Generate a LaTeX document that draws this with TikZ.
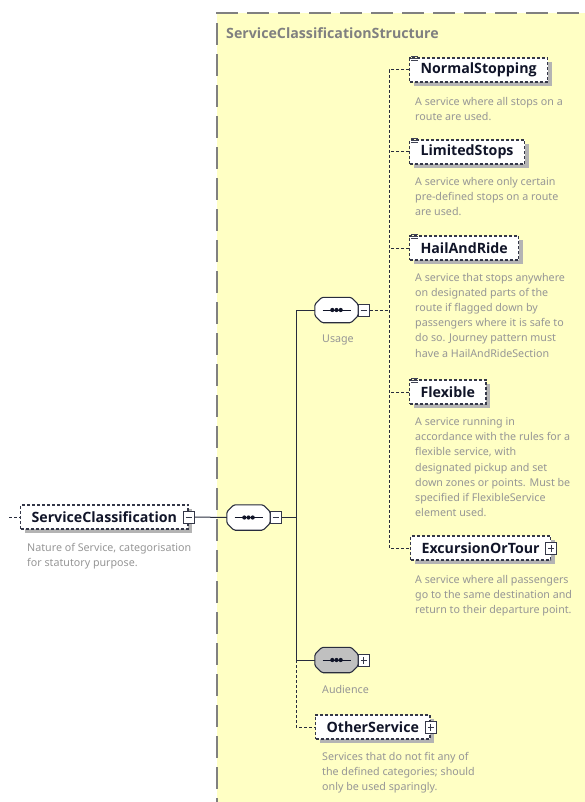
\documentclass[tikz,border=0pt]{standalone}
\usepackage{fontspec}
\setmainfont{Noto Sans}
\newfontfamily\namefam{Open Sans}
\usetikzlibrary{shadows,calc}

\definecolor{panel}{RGB}{255,255,196}
\definecolor{panelline}{RGB}{128,128,128}
\definecolor{ink}{RGB}{16,20,40}
\definecolor{note}{RGB}{150,150,150}
\definecolor{shade}{RGB}{180,180,180}
\definecolor{compgrey}{RGB}{192,192,192}

\newcommand\elfont{\namefam\fontsize{14.2}{17}\selectfont\bfseries}
\newcommand\notefont{\fontsize{10.7}{15.2}\selectfont}
\newcommand\notelines[1]{\begin{tabular}[t]{@{}l@{}}#1\end{tabular}}

\tikzset{
  element/.style={draw=ink!85, dash pattern=on 3pt off 2pt, line width=1.1pt,
    fill=white, font=\elfont, text=ink, anchor=west, inner xsep=11pt,
    inner ysep=0pt, minimum height=24pt,
    drop shadow={shadow xshift=4pt, shadow yshift=-4pt, fill=shade, opacity=1}},
  note/.style={anchor=base west, inner sep=0pt, font=\notefont, text=note},
  compbox/.style={minimum width=43pt, minimum height=25pt, inner sep=0pt},
  togglebox/.style={draw=ink!85, fill=white, line width=0.8pt, solid,
    minimum width=11pt, minimum height=12pt, inner sep=0pt},
  minusbox/.style={togglebox, path picture={
    \draw[ink!85, line width=0.8pt]
      ([xshift=2.5pt]path picture bounding box.west) --
      ([xshift=-2.5pt]path picture bounding box.east);}},
  plusbox/.style={togglebox, path picture={
    \draw[ink!85, line width=0.8pt]
      ([xshift=2.5pt]path picture bounding box.west) --
      ([xshift=-2.5pt]path picture bounding box.east)
      ([yshift=2.5pt]path picture bounding box.south) --
      ([yshift=-2.5pt]path picture bounding box.north);}},
  conn/.style={draw=ink!90, line width=1pt},
  opt/.style={conn, dash pattern=on 3pt off 2pt},
}

% sequence compositor: chamfered box with shadow, dotted bar and a toggle
\newcommand\compositor[4]{% name, centre, fill, toggle style
  \node[compbox] (#1) at (#2) {};
  \path[fill=shade, shift={(5,5)}, rounded corners=1.5pt]
    ($(#1.north west)+(7,0)$) -- ($(#1.north east)+(-7,0)$) --
    ($(#1.north east)+(0,7)$) -- ($(#1.south east)+(0,-7)$) --
    ($(#1.south east)+(-7,0)$) -- ($(#1.south west)+(7,0)$) --
    ($(#1.south west)+(0,-7)$) -- ($(#1.north west)+(0,7)$) -- cycle;
  \path[fill=#3, draw=ink!90, line width=1.1pt, rounded corners=1.5pt]
    ($(#1.north west)+(7,0)$) -- ($(#1.north east)+(-7,0)$) --
    ($(#1.north east)+(0,7)$) -- ($(#1.south east)+(0,-7)$) --
    ($(#1.south east)+(-7,0)$) -- ($(#1.south west)+(7,0)$) --
    ($(#1.south west)+(0,-7)$) -- ($(#1.north west)+(0,7)$) -- cycle;
  \draw[ink, line width=1pt] ($(#1.center)+(-14,0)$) -- ($(#1.center)+(14,0)$);
  \foreach \dx in {-4.2,0,4.2} \fill[ink] ($(#1.center)+(\dx,0)$) circle (2.1);
  \node[#4] (#1t) at ($(#1.east)+(5.5,0)$) {};
}

% small documentation mark on the corner of an element box
\newcommand\docmark[1]{%
  \foreach \dy in {-1.5,0.7,2.9}
    \draw[ink!80, line width=0.6pt] ($(#1.north west)+(2,\dy)$) -- ++(7,0);
}

\begin{document}
\begin{tikzpicture}[x=1pt,y=-1pt]
\useasboundingbox (0,0) rectangle (584,802);

% complex type panel
\fill[panel] (217,13) rectangle (600,820);
\draw[panelline, line width=1.3pt, dash pattern=on 22pt off 9pt]
  (217,820) -- (217,13) -- (600,13);
\node[anchor=west, inner sep=0pt, font=\elfont, text=panelline] (title)
  at (226,33) {ServiceClassificationStructure};

% root element
\node[element] (sc) at (20,517) {ServiceClassification\hspace{4pt}};
\node[minusbox] (sct) at (sc.east) {};
\node[note] (scn) at (27,551.5)
  {\notelines{Nature of Service, categorisation\\for statutory purpose.}};
\coordinate (stub) at (9,517);
\draw[opt] (stub) -- (sc.west);

% compositors
\compositor{seq}{248.5,517.5}{white}{minusbox}
\compositor{usage}{336.5,310}{white}{minusbox}
\compositor{aud}{336.5,660}{compgrey}{plusbox}
\node[note, anchor=west] (usagelbl) at (322,340) {Usage};
\node[note, anchor=west] (audlbl) at (322,689) {Audience};

% usage choices
\node[element] (ns) at (409,70) {NormalStopping};
\node[element] (ls) at (409,152) {LimitedStops};
\node[element] (hr) at (409,248) {HailAndRide};
\node[element] (fx) at (409,392) {Flexible};
\node[element] (ex) at (410,548) {ExcursionOrTour\hspace{4pt}};
\node[plusbox] (ext) at (ex.east) {};
\docmark{ns}\docmark{ls}\docmark{hr}\docmark{fx}

\node[note] (nsn) at (415,105.5)
  {\notelines{A service where all stops on a\\route are used.}};
\node[note] (lsn) at (415,185.5)
  {\notelines{A service where only certain\\pre-defined stops on a route\\are used.}};
\node[note] (hrn) at (415,281)
  {\notelines{A service that stops anywhere\\on designated parts of the\\route if flagged down by\\passengers where it is safe to\\do so. Journey pattern must\\have a HailAndRideSection}};
\node[note] (fxn) at (415,425.5)
  {\notelines{A service running in\\accordance with the rules for a\\flexible service, with\\designated pickup and set\\down zones or points. Must be\\specified if FlexibleService\\element used.}};
\node[note] (exn) at (415,583.5)
  {\notelines{A service where all passengers\\go to the same destination and\\return to their departure point.}};

% other service
\node[element] (other) at (315,727) {OtherService\hspace{4pt}};
\node[plusbox] (othert) at (other.east) {};
\node[note] (othern) at (322,760.5)
  {\notelines{Services that do not fit any of\\the defined categories; should\\only be used sparingly.}};

% connectors
\coordinate (trunk) at (296,517.5);
\coordinate (ubar) at (389,310);
\draw[conn] (sct.east) -- (seq.west);
\draw[conn] (seqt.east) -- (trunk);
\draw[conn] (usage.west) -| (trunk |- aud.west) -- (aud.west);
\draw[opt] (trunk |- aud.west) |- (other.west);
\draw[opt] (usaget.east) -- (ubar);
\draw[opt] (ns.west) -| (ubar |- ex.west) -- (ex.west);
\draw[opt] (ls.west) -- (ls.west -| ubar);
\draw[opt] (hr.west) -- (hr.west -| ubar);
\draw[opt] (fx.west) -- (fx.west -| ubar);
\end{tikzpicture}
\end{document}
